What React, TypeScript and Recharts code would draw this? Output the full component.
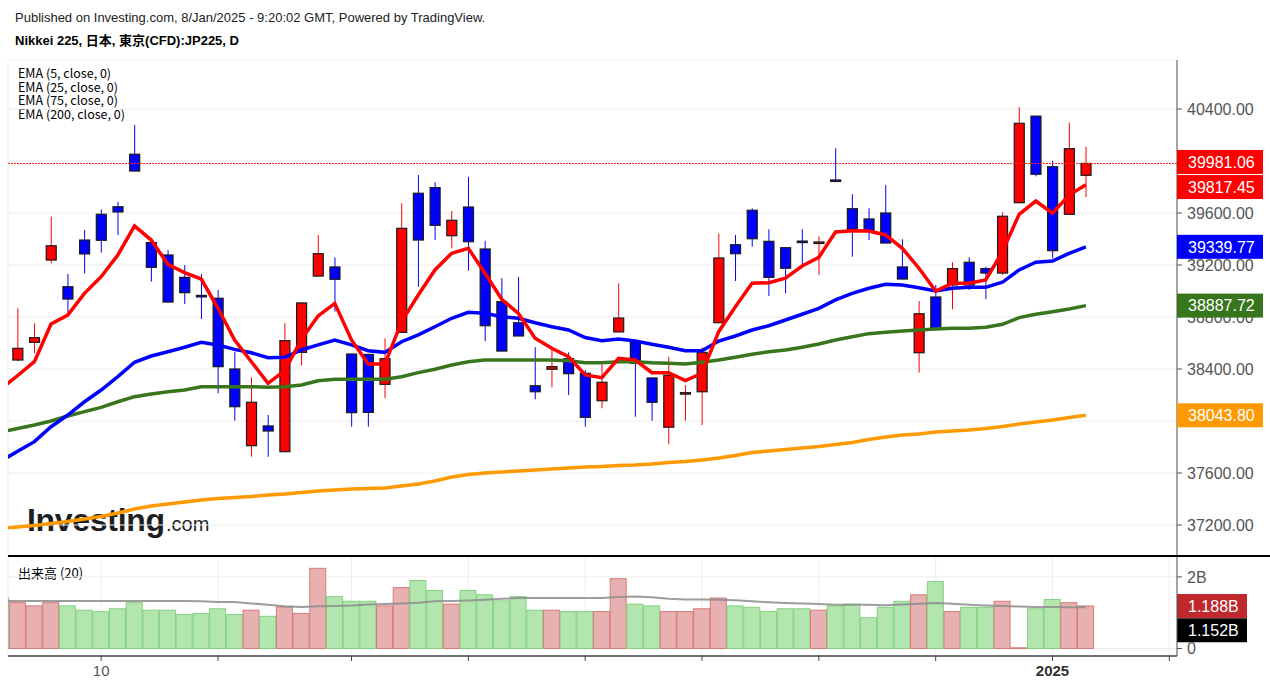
import React from 'react';
import { ComposedChart, Bar, Line, XAxis, YAxis, CartesianGrid, ReferenceLine } from 'recharts';

const FONT = '"Liberation Sans", Arial, "Noto Sans CJK JP", sans-serif';
const CJK = '"Noto Sans CJK JP", "Liberation Sans", sans-serif';

// daily candles, index 0..64
const opens = [38469, 38605, 39238, 39033, 39392, 39590, 39648, 40052, 39372, 39277, 39105, 38966, 38944, 38400, 37810, 37962, 37764, 38528, 39115, 39185, 38515, 38512, 38282, 38682, 39752, 39795, 39425, 39646, 39323, 38918, 38756, 38271, 38398, 38479, 38367, 38156, 38685, 38608, 38331, 37952, 38215, 38225, 38756, 39356, 39621, 39382, 39333, 39384, 39375, 39854, 39633, 39554, 39600, 39185, 38525, 38954, 39046, 39221, 39172, 39138, 39679, 40345, 39956, 39590, 39890];
const highs = [38867, 38752, 39572, 39131, 39469, 39628, 39685, 40277, 39380, 39315, 39200, 39131, 39008, 38533, 38336, 38046, 38752, 38912, 39431, 39259, 38518, 38516, 38636, 39675, 39892, 39836, 39615, 39879, 39385, 39098, 39108, 38567, 38546, 38528, 38392, 38436, 39059, 38610, 38333, 38495, 38277, 38567, 39441, 39431, 39636, 39475, 39335, 39475, 39420, 40098, 39744, 39636, 39815, 39398, 38923, 39046, 39221, 39259, 39187, 39605, 40413, 40347, 40002, 40295, 40110];
const lows = [38460, 38521, 39213, 38828, 39136, 39295, 39431, 39920, 39072, 38910, 38900, 38785, 38213, 38002, 37725, 37725, 37760, 38427, 39112, 38841, 37956, 37956, 38175, 38680, 39033, 39392, 39328, 39156, 38615, 38535, 38652, 38167, 38259, 38200, 37956, 38098, 38683, 38033, 38002, 37821, 38002, 37969, 38754, 39077, 39341, 38962, 38982, 39187, 39123, 39848, 39264, 39392, 39367, 39090, 38372, 38706, 38859, 39008, 38938, 39123, 39677, 39882, 39251, 39588, 39723];
const closes = [38559, 38641, 39348, 38938, 39285, 39390, 39608, 39923, 39182, 38915, 38987, 38962, 38418, 38110, 38144, 37923, 38618, 38908, 39287, 39090, 38064, 38066, 38479, 39482, 39392, 39505, 39544, 39379, 38733, 38538, 38654, 38225, 38418, 38364, 38028, 38298, 38792, 38444, 38144, 38352, 38218, 38528, 39254, 39287, 39402, 39105, 39175, 39380, 39377, 39850, 39475, 39462, 39369, 39092, 38825, 38708, 39172, 39046, 39138, 39575, 40290, 39898, 39310, 40095, 39981.06];

// indicator series, index -1..64 (the first value belongs to the bar cut off at the left edge)
const ema5 = [38246, 38350, 38456, 38746, 38815, 38982, 39110, 39277, 39500, 39392, 39205, 39141, 39092, 38867, 38623, 38456, 38290, 38387, 38628, 38808, 38905, 38623, 38438, 38438, 38764, 38969, 39162, 39290, 39328, 39136, 38936, 38828, 38636, 38559, 38495, 38354, 38333, 38482, 38469, 38372, 38372, 38310, 38367, 38687, 38879, 39059, 39064, 39098, 39192, 39259, 39454, 39464, 39462, 39431, 39328, 39175, 39000, 39059, 39059, 39085, 39302, 39590, 39692, 39598, 39738, 39817.45];
const ema25 = [37693, 37767, 37841, 37956, 38046, 38148, 38238, 38341, 38452, 38500, 38533, 38567, 38605, 38585, 38551, 38525, 38487, 38490, 38546, 38585, 38623, 38585, 38541, 38528, 38610, 38662, 38725, 38790, 38836, 38828, 38802, 38790, 38756, 38725, 38700, 38642, 38618, 38631, 38615, 38590, 38567, 38541, 38541, 38615, 38654, 38700, 38733, 38777, 38821, 38867, 38931, 38982, 39021, 39052, 39046, 39025, 39000, 39021, 39028, 39028, 39067, 39162, 39221, 39231, 39290, 39339.77];
const ema75 = [37915, 37942, 37969, 38000, 38038, 38072, 38105, 38148, 38187, 38208, 38225, 38238, 38264, 38264, 38264, 38264, 38259, 38264, 38277, 38310, 38321, 38321, 38321, 38321, 38341, 38372, 38398, 38431, 38456, 38469, 38469, 38469, 38469, 38469, 38464, 38448, 38448, 38456, 38456, 38448, 38444, 38438, 38452, 38469, 38490, 38513, 38533, 38546, 38567, 38592, 38623, 38648, 38672, 38682, 38692, 38700, 38708, 38713, 38713, 38721, 38744, 38795, 38821, 38841, 38862, 38887.72];
const ema200 = [37173, 37185, 37196, 37211, 37227, 37246, 37265, 37292, 37323, 37346, 37361, 37377, 37392, 37404, 37412, 37419, 37431, 37438, 37450, 37461, 37469, 37477, 37481, 37485, 37500, 37515, 37538, 37569, 37588, 37600, 37608, 37615, 37623, 37631, 37638, 37646, 37650, 37658, 37662, 37669, 37681, 37688, 37700, 37715, 37735, 37758, 37769, 37781, 37792, 37804, 37819, 37835, 37858, 37877, 37892, 37900, 37915, 37923, 37931, 37942, 37958, 37977, 37992, 38008, 38027, 38043.8];
// volume in billions, index -1..64
const volumes = [1.42, 1.28, 1.19, 1.28, 1.19, 1.07, 1.03, 1.11, 1.28, 1.07, 1.07, 0.95, 0.98, 1.11, 0.95, 1.07, 0.9, 1.16, 0.98, 2.24, 1.45, 1.32, 1.32, 1.19, 1.7, 1.9, 1.62, 1.24, 1.62, 1.5, 1.33, 1.45, 1.07, 1.07, 1.03, 1.03, 1.03, 1.95, 1.24, 1.19, 1.03, 1.03, 1.11, 1.41, 1.19, 1.15, 1.03, 1.11, 1.11, 1.07, 1.19, 1.24, 0.86, 1.15, 1.32, 1.5, 1.87, 1.03, 1.15, 1.15, 1.32, 0.02, 1.11, 1.37, 1.28, 1.188];
const volumeMa = [1.33, 1.33, 1.33, 1.33, 1.33, 1.33, 1.33, 1.33, 1.33, 1.33, 1.33, 1.33, 1.32, 1.3, 1.3, 1.26, 1.22, 1.18, 1.16, 1.18, 1.19, 1.2, 1.23, 1.24, 1.26, 1.28, 1.32, 1.33, 1.34, 1.36, 1.39, 1.41, 1.41, 1.41, 1.41, 1.41, 1.41, 1.44, 1.45, 1.43, 1.39, 1.37, 1.37, 1.36, 1.35, 1.32, 1.29, 1.27, 1.26, 1.24, 1.22, 1.22, 1.22, 1.21, 1.23, 1.25, 1.27, 1.25, 1.22, 1.2, 1.19, 1.17, 1.16, 1.16, 1.155, 1.152];
const leadVolumeUp = false;

const xDomain = [-0.581, 69.46];
const xTicks = [5, 12, 20, 27, 34, 41, 48, 55, 62, 69];
const xTickLabels: Record<number, string> = { 5: '10', 62: '2025' };
const priceDomain = [36961.5, 40776.9];
const priceTicks = [37200, 37600, 38000, 38400, 38800, 39200, 39600, 40000, 40400];
// labels that sit completely under a value badge in the original
const hiddenPriceLabels = [38000, 40000];
const volumeDomain = [-0.2095, 2.556];
const volumeTicks = [0, 2];

const lastClose = 39981.06;
const priceBadges = [
  { value: 39981.06, text: '39981.06', color: '#ff0000', shift: -1.5 },
  { value: 39817.45, text: '39817.45', color: '#ff0000', shift: 2.3 },
  { value: 39339.77, text: '39339.77', color: '#0000ff', shift: 0 },
  { value: 38887.72, text: '38887.72', color: '#38761d', shift: 0 },
  { value: 38043.8, text: '38043.80', color: '#ff9900', shift: 0 },
];
const volumeBadges = [
  { value: 1.188, text: '1.188B', color: '#c0282d', shift: 0 },
  { value: 1.152, text: '1.152B', color: '#000000', shift: 23 },
];
const legendLines = ['EMA (5, close, 0)', 'EMA (25, close, 0)', 'EMA (75, close, 0)', 'EMA (200, close, 0)'];

const rows = ema5.map((_, k) => {
  const i = k - 1;
  const has = i >= 0;
  return {
    i,
    open: has ? opens[i] : null,
    high: has ? highs[i] : null,
    low: has ? lows[i] : null,
    close: has ? closes[i] : null,
    range: has ? [lows[i], highs[i]] : null,
    up: has ? closes[i] >= opens[i] : leadVolumeUp,
    ema5: ema5[k],
    ema25: ema25[k],
    ema75: ema75[k],
    ema200: ema200[k],
    vol: volumes[k],
    volMa: volumeMa[k],
  };
});

const Candle = (props: any) => {
  const { x, y, width, height, payload } = props;
  if (payload == null || payload.high == null || !isFinite(y) || !isFinite(height)) return null;
  const top = Math.min(y, y + height);
  const h = Math.abs(height);
  const k = h / (payload.high - payload.low);
  const yOf = (v: number) => top + (payload.high - v) * k;
  const color = payload.up ? '#ff0000' : '#0000ff';
  const cx = x + width / 2;
  const bTop = yOf(Math.max(payload.open, payload.close));
  const bBot = yOf(Math.min(payload.open, payload.close));
  return (
    <g>
      <line x1={cx} x2={cx} y1={top} y2={top + h} stroke={color} strokeWidth={1} />
      <rect x={x + 0.5} y={bTop} width={width - 1} height={Math.max(bBot - bTop, 1.5)} fill={color} stroke="#1a1a1a" strokeWidth={1.2} />
    </g>
  );
};

const VolumeBar = (props: any) => {
  const { x, y, width, height, payload } = props;
  if (!isFinite(y) || !isFinite(height)) return null;
  const up = payload.up;
  return (
    <rect x={x} y={y} width={width} height={Math.max(height, 0.8)}
      fill={up ? '#e8b1b1' : '#b2e6ae'} stroke={up ? '#d87a7a' : '#84d280'} strokeWidth={1} />
  );
};

const badge = (text: string, color: string, shift: number, w: number) => (props: any) => {
  const vb = props.viewBox;
  const cy = vb.y + shift;
  const x0 = vb.x + vb.width;
  return (
    <g>
      <rect x={x0} y={cy - 12} width={w} height={24} fill={color} />
      <text x={x0 + 11} y={cy} dy="0.36em" fill="#ffffff" fontSize={16} fontFamily={FONT}>{text}</text>
    </g>
  );
};

const XTick = (props: any) => {
  const { x, y, payload } = props;
  const label = xTickLabels[payload.value];
  if (!label) return null;
  const bold = label === '2025';
  return (
    <text x={x} y={y + 13} textAnchor="middle" fontSize={15} fontFamily={FONT}
      fontWeight={bold ? 'bold' : 'normal'} fill={bold ? '#333' : '#555'}>{label}</text>
  );
};

const App = () => {
  return (
    <div style={{ position: 'absolute', left: 0, top: 0, width: 1270, height: 688, background: '#fff', overflow: 'hidden' }}>
      <svg width={1270} height={688} style={{ position: 'absolute', left: 0, top: 0 }}>
        <text x={15} y={21.5} fontSize={13} fontFamily={FONT} fill="#222">
          Published on Investing.com, 8/Jan/2025 - 9:20:02 GMT, Powered by TradingView.
        </text>
        <text x={15} y={44.5} fontSize={13} fontWeight="bold" fontFamily={FONT} fill="#000">
          Nikkei 225, 日本, 東京(CFD):JP225, D
        </text>
        {legendLines.map((t, n) => (
          <text key={t} x={18} y={78 + n * 13.5} fontSize={12.5} fontFamily={CJK} fill="#000">{t}</text>
        ))}
        <text x={27} y={531} fontSize={32} fontWeight="bold" fontFamily={FONT} fill="#1e1e1e" letterSpacing={-0.3}>Investing</text>
        <text x={166} y={531} fontSize={20} fontFamily={FONT} fill="#1e1e1e">.com</text>
        <text x={18} y={577.5} fontSize={13} fontFamily={CJK} fill="#000">出来高 (20)</text>
      </svg>

      <div style={{ position: 'absolute', left: 0, top: 60 }}>
        <ComposedChart width={1270} height={496} data={rows} margin={{ top: 0, right: 0, bottom: 0, left: 8 }}>
          <CartesianGrid stroke="#ededed" strokeWidth={1} />
          <XAxis dataKey="i" type="number" domain={xDomain} allowDataOverflow ticks={xTicks} height={0}
            tick={false} axisLine={false} tickLine={false} />
          <YAxis orientation="right" width={93} domain={priceDomain} ticks={priceTicks} interval={0}
            tickFormatter={(v: number) => (hiddenPriceLabels.includes(v) ? '' : v.toFixed(2))} tickSize={5} tickMargin={5}
            axisLine={{ stroke: '#555' }} tickLine={{ stroke: '#555' }}
            tick={{ fill: '#555', fontSize: 16, fontFamily: FONT }} />
          <ReferenceLine y={lastClose} stroke="#ff2020" strokeDasharray="2 1" strokeWidth={1} />
          <Line dataKey="ema200" stroke="#ff9900" strokeWidth={3.5} dot={false} isAnimationActive={false} />
          <Line dataKey="ema75" stroke="#38761d" strokeWidth={3.5} dot={false} isAnimationActive={false} />
          <Line dataKey="ema25" stroke="#0000ff" strokeWidth={3.5} dot={false} isAnimationActive={false} />
          <Bar dataKey="range" barSize={11} shape={<Candle />} isAnimationActive={false} />
          <Line dataKey="ema5" stroke="#ff0000" strokeWidth={3.5} dot={false} isAnimationActive={false} />
        </ComposedChart>
      </div>

      <div style={{ position: 'absolute', left: 0, top: 60 }}>
        <ComposedChart width={1270} height={496} data={rows} margin={{ top: 0, right: 0, bottom: 0, left: 8 }}>
          <XAxis dataKey="i" type="number" domain={xDomain} allowDataOverflow height={0}
            tick={false} axisLine={false} tickLine={false} />
          <YAxis orientation="right" width={93} domain={priceDomain} tick={false} axisLine={false} tickLine={false} />
          <Line dataKey="ema5" stroke="none" strokeWidth={0} dot={false} isAnimationActive={false} />
          {priceBadges.map((b) => (
            <ReferenceLine key={b.text} y={b.value} stroke="none" label={badge(b.text, b.color, b.shift, 86)} />
          ))}
        </ComposedChart>
      </div>

      <div style={{ position: 'absolute', left: 8, top: 555, width: 1262, height: 2, background: '#000' }} />

      <div style={{ position: 'absolute', left: 0, top: 557 }}>
        <ComposedChart width={1270} height={131} data={rows} margin={{ top: 0, right: 0, bottom: 0, left: 8 }}>
          <CartesianGrid stroke="#ededed" strokeWidth={1} />
          <XAxis dataKey="i" type="number" domain={xDomain} allowDataOverflow ticks={xTicks} interval={0} height={32}
            axisLine={{ stroke: '#444', strokeWidth: 1.5 }} tickLine={{ stroke: '#444' }} tickSize={5} tick={<XTick />} />
          <YAxis orientation="right" width={93} domain={volumeDomain} ticks={volumeTicks} interval={0}
            tickFormatter={(v: number) => (v === 0 ? '0' : `${v}B`)} tickSize={5} tickMargin={5}
            axisLine={{ stroke: '#555' }} tickLine={{ stroke: '#555' }}
            tick={{ fill: '#555', fontSize: 16, fontFamily: FONT }} />
          <Bar dataKey="vol" barSize={16} shape={<VolumeBar />} isAnimationActive={false} />
          <Line dataKey="volMa" stroke="#8c8c8c" strokeOpacity={0.85} strokeWidth={2} dot={false} isAnimationActive={false} />
          {volumeBadges.map((b) => (
            <ReferenceLine key={b.text} y={b.value} stroke="none" label={badge(b.text, b.color, b.shift, 70)} />
          ))}
        </ComposedChart>
      </div>
    </div>
  );
};

export default App;
